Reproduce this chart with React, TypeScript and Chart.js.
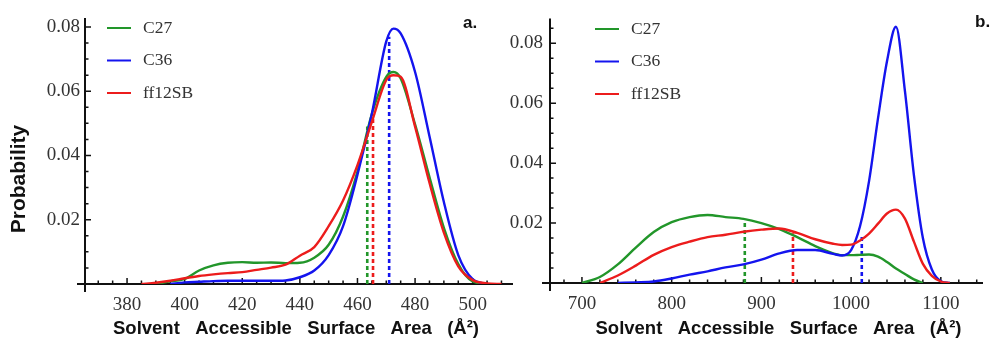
import React, { useEffect, useRef } from 'react';
import { Chart, registerables } from 'chart.js';

Chart.register(...registerables);

const SERIES = ['C27', 'C36', 'ff12SB'];
const SERIES_COLORS = ['#22962a', '#1414ee', '#ec1c1c'];

// ---------- Panel a ----------
const aSasa = [370, 375, 380, 385, 390, 395, 400, 405, 410, 415, 420, 425, 430, 435, 440, 445, 450, 455, 460, 465, 470, 472.5, 475, 480, 485, 490, 495, 500, 505, 510];
const aC27 = [null, null, null, null, 0, 0.0008, 0.0016, 0.0042, 0.0058, 0.0066, 0.0068, 0.0066, 0.0067, 0.0065, 0.0066, 0.0082, 0.0122, 0.021, 0.035, 0.053, 0.0645, 0.066, 0.064, 0.0497, 0.0333, 0.0175, 0.0062, 0.0008, 0, null];
const aC36 = [null, null, null, null, null, 0, 0.0005, 0.0007, 0.0009, 0.001, 0.001, 0.001, 0.001, 0.0011, 0.0021, 0.0042, 0.009, 0.018, 0.034, 0.053, 0.0755, 0.0795, 0.078, 0.066, 0.046, 0.0255, 0.009, 0.0015, 0, null];
const aFf12sb = [null, null, null, 0, 0.0004, 0.001, 0.0018, 0.0025, 0.003, 0.0034, 0.0037, 0.0044, 0.0051, 0.006, 0.0088, 0.0115, 0.018, 0.026, 0.037, 0.0505, 0.0635, 0.065, 0.0645, 0.049, 0.0315, 0.016, 0.0055, 0.0012, 0.0002, 0];
const aMarkerSasa = [463.4, 471.0, 465.4];
const aMarkerTop = [0.049, 0.077, 0.0527];

// ---------- Panel b ----------
const bSasa = [680, 700, 720, 740, 760, 780, 800, 820, 840, 860, 880, 900, 920, 940, 960, 980, 990, 1000, 1010, 1020, 1030, 1040, 1050, 1060, 1070, 1080, 1090, 1100, 1110, 1120, 1140];
const bC27 = [null, 0, 0.002, 0.0062, 0.0118, 0.017, 0.0203, 0.022, 0.0227, 0.022, 0.0214, 0.02, 0.018, 0.0153, 0.0123, 0.0099, 0.0093, 0.0093, 0.0094, 0.0095, 0.0088, 0.007, 0.0048, 0.003, 0.0012, 0, null, null, null, null, null];
const bC36 = [null, null, null, 0, 0.0002, 0.0005, 0.0015, 0.0028, 0.0039, 0.0052, 0.0062, 0.0078, 0.0099, 0.011, 0.011, 0.0097, 0.0092, 0.011, 0.019, 0.034, 0.055, 0.074, 0.0855, 0.064, 0.036, 0.015, 0.0045, 0.0006, 0, null, null];
const bFf12sb = [null, null, 0, 0.0025, 0.0058, 0.0094, 0.012, 0.0138, 0.0153, 0.0161, 0.0171, 0.0178, 0.0182, 0.0167, 0.0146, 0.0131, 0.0127, 0.0128, 0.0142, 0.0165, 0.0198, 0.0232, 0.0245, 0.0215, 0.0138, 0.0064, 0.0024, 0.0005, 0, null, null];
const bMarkerSasa = [881.5, 1011.9, 935.2];
const bMarkerTop = [0.020, 0.016, 0.0166];

const X_TITLE = 'Solvent   Accessible   Surface   Area   (Å²)';
const Y_TITLE = 'Probability';

const SERIF = '"Liberation Serif", "Times New Roman", serif';
const SANS = '"Liberation Sans", Arial, Helvetica, sans-serif';

const decorPlugin = {
  id: 'decor',
  beforeDatasetsDraw(chart: any, _args: any, opts: any) {
    const { ctx, chartArea: ca } = chart;
    const xs = chart.scales.x;
    const ys = chart.scales.y;
    const y0 = ys.getPixelForValue(0);
    ctx.save();
    ctx.strokeStyle = '#111';
    ctx.lineWidth = 2;
    ctx.beginPath();
    ctx.moveTo(ca.left - 8, y0);
    ctx.lineTo(ca.right, y0);
    ctx.moveTo(ca.left, ca.top);
    ctx.lineTo(ca.left, ca.bottom + 8);
    ctx.stroke();
    ctx.lineWidth = 1.5;
    ctx.beginPath();
    const xMajor = xs.ticks.map((t: any) => t.value);
    for (let v = Math.ceil(xs.min / opts.xMinor) * opts.xMinor; v <= xs.max; v += opts.xMinor) {
      const isMajor = xMajor.some((m: number) => Math.abs(m - v) < 1e-6);
      const px = xs.getPixelForValue(v);
      ctx.moveTo(px, y0);
      ctx.lineTo(px, y0 - (isMajor ? 6 : 3.5));
    }
    const yMajor = ys.ticks.map((t: any) => t.value);
    for (let k = 1; k * opts.yMinor <= ys.max + 1e-9; k++) {
      const v = k * opts.yMinor;
      const isMajor = yMajor.some((m: number) => Math.abs(m - v) < 1e-9);
      const py = ys.getPixelForValue(v);
      ctx.moveTo(ca.left, py);
      ctx.lineTo(ca.left + (isMajor ? 6 : 3.5), py);
    }
    ctx.stroke();
    ctx.restore();
  },
  afterDatasetsDraw(chart: any, _args: any, opts: any) {
    const { ctx } = chart;
    ctx.save();
    // legend
    ctx.font = `17.5px ${SERIF}`;
    ctx.textBaseline = 'middle';
    ctx.textAlign = 'left';
    SERIES.forEach((name, i) => {
      const y = opts.legendY + i * opts.legendGap;
      ctx.strokeStyle = SERIES_COLORS[i];
      ctx.lineWidth = 2;
      ctx.beginPath();
      ctx.moveTo(opts.legendX, y);
      ctx.lineTo(opts.legendX + 24, y);
      ctx.stroke();
      ctx.fillStyle = '#333';
      ctx.fillText(name, opts.legendX + 36, y);
    });
    // panel label
    ctx.font = `bold 17px ${SANS}`;
    ctx.fillStyle = '#111';
    ctx.textBaseline = 'alphabetic';
    ctx.fillText(opts.panelLabel, opts.panelLabelX, opts.panelLabelY);
    // x title
    ctx.font = `bold 18.5px ${SANS}`;
    ctx.textAlign = 'center';
    ctx.textBaseline = 'middle';
    ctx.fillText(X_TITLE, opts.titleX, opts.titleY);
    // y title
    if (opts.showYTitle) {
      ctx.translate(19, 179);
      ctx.rotate(-Math.PI / 2);
      ctx.font = `bold 21px ${SANS}`;
      ctx.fillText(Y_TITLE, 0, 0);
    }
    ctx.restore();
  },
};

function lineDs(label: string, color: string, xs: number[], ys: (number | null)[], order: number) {
  return {
    label,
    data: xs.map((x, i) => ({ x, y: ys[i] })),
    borderColor: color,
    backgroundColor: color,
    borderWidth: 2.4,
    pointRadius: 0,
    showLine: true,
    fill: false,
    spanGaps: false,
    cubicInterpolationMode: 'monotone',
    order,
  };
}

function markerDs(color: string, x: number, top: number) {
  return {
    label: '',
    data: [{ x, y: 0 }, { x, y: top }],
    borderColor: color,
    borderWidth: 2.6,
    borderDash: [4, 3],
    pointRadius: 0,
    showLine: true,
    fill: false,
    order: 4,
  };
}

function buildConfig(p: any) {
  const tickFont = { family: SERIF, size: 19 };
  return {
    type: 'scatter',
    data: {
      datasets: [
        lineDs(SERIES[0], SERIES_COLORS[0], p.sasa, p.c27, 2),
        lineDs(SERIES[1], SERIES_COLORS[1], p.sasa, p.c36, 1),
        lineDs(SERIES[2], SERIES_COLORS[2], p.sasa, p.ff, 0),
        ...p.markerSasa.map((m: number, i: number) => markerDs(SERIES_COLORS[i], m, p.markerTop[i])),
      ],
    },
    options: {
      responsive: false,
      animation: false,
      devicePixelRatio: 1,
      events: [],
      layout: { padding: { left: 0, right: p.padRight, top: p.padTop, bottom: 0 } },
      plugins: {
        legend: { display: false },
        tooltip: { enabled: false },
        decor: p.decor,
      },
      scales: {
        x: {
          type: 'linear',
          min: p.xMin,
          max: p.xMax,
          afterFit: (s: any) => { s.height = p.xHeight; },
          grid: { display: false, drawTicks: false },
          border: { display: false },
          ticks: {
            stepSize: p.xStep,
            includeBounds: false,
            font: tickFont,
            color: '#333',
            padding: 10,
            maxRotation: 0,
            autoSkip: false,
            callback: (v: number) => String(v),
          },
        },
        y: {
          type: 'linear',
          min: 0,
          max: p.yMax,
          afterFit: (s: any) => { s.width = p.yWidth; },
          grid: { display: false, drawTicks: false },
          border: { display: false },
          ticks: {
            stepSize: 0.02,
            includeBounds: false,
            font: tickFont,
            color: '#333',
            padding: p.yPad,
            callback: (v: number) => (Math.abs(v) < 1e-9 ? '' : v.toFixed(2)),
          },
        },
      },
    },
    plugins: [decorPlugin],
  };
}

const PANEL_A = {
  sasa: aSasa, c27: aC27, c36: aC36, ff: aFf12sb,
  markerSasa: aMarkerSasa, markerTop: aMarkerTop,
  xMin: 365.4, xMax: 514, xStep: 20, yMax: 0.0828,
  padRight: 9, padTop: 18, xHeight: 57, yWidth: 85, yPad: 5,
  decor: {
    xMinor: 5, yMinor: 0.005,
    legendX: 107, legendY: 28, legendGap: 32.5,
    panelLabel: 'a.', panelLabelX: 463, panelLabelY: 28,
    titleX: 296, titleY: 329, showYTitle: true,
  },
};

const PANEL_B = {
  sasa: bSasa, c27: bC27, c36: bC36, ff: bFf12sb,
  markerSasa: bMarkerSasa, markerTop: bMarkerTop,
  xMin: 664.4, xMax: 1147, xStep: 100, yMax: 0.0883,
  padRight: 10, padTop: 17, xHeight: 58, yWidth: 55, yPad: 7,
  decor: {
    xMinor: 20, yMinor: 0.005,
    legendX: 100, legendY: 29, legendGap: 32.5,
    panelLabel: 'b.', panelLabelX: 480, panelLabelY: 27,
    titleX: 283.5, titleY: 329, showYTitle: false,
  },
};

function Panel({ cfg, left, width }: { cfg: any; left: number; width: number }) {
  const ref = useRef<HTMLCanvasElement | null>(null);
  useEffect(() => {
    if (!ref.current) return;
    const chart = new Chart(ref.current, buildConfig(cfg) as any);
    return () => chart.destroy();
  }, [cfg]);
  return (
    <canvas
      ref={ref}
      width={width}
      height={341}
      style={{ position: 'absolute', left, top: 0, width, height: 341 }}
    />
  );
}

export default function App() {
  return (
    <div style={{ position: 'fixed', left: 0, top: 0, width: 993, height: 341, background: '#fff', overflow: 'hidden' }}>
      <Panel cfg={PANEL_A} left={0} width={522} />
      <Panel cfg={PANEL_B} left={495} width={498} />
    </div>
  );
}
